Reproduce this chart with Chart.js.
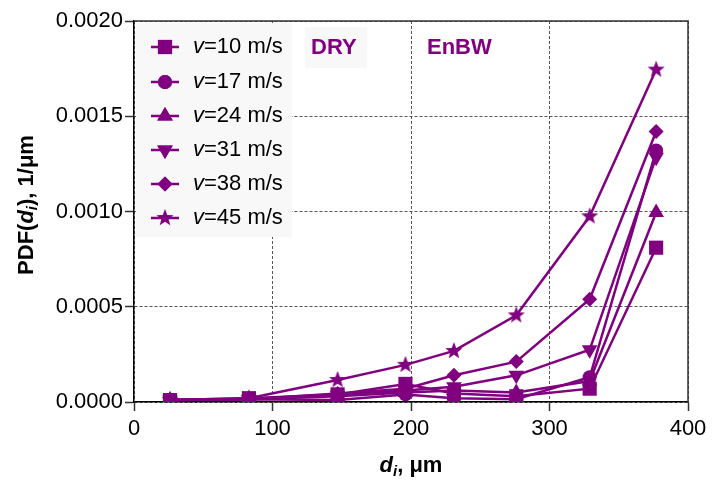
<!DOCTYPE html>
<html>
<head>
<meta charset="utf-8">
<script src="https://cdn.jsdelivr.net/npm/chart.js@4.4.1/dist/chart.umd.min.js"></script>
<style>
  html, body { margin: 0; padding: 0; background: #fff; }
  #chart { display: block; }
</style>
</head>
<body>
<canvas id="chart" width="713" height="481"></canvas>
<script>
// droplet diameter classes, um
const diameters = [26, 83, 147, 196, 231, 276, 329, 377];

// PDF(d_i) per wind speed, 1/um
const pdfV10 = [0.000010, 0.000020, 0.000040, 0.000095, 0.000045, 0.000030, 0.000070, 0.000810];
const pdfV17 = [0.000010, 0.000015, 0.000010, 0.000040, 0.000020, 0.000015, 0.000130, 0.001320];
const pdfV24 = [0.000010, 0.000015, 0.000030, 0.000050, 0.000060, 0.000050, 0.000110, 0.000995];
const pdfV31 = [0.000010, 0.000015, 0.000035, 0.000060, 0.000080, 0.000140, 0.000274, 0.001285];
const pdfV38 = [0.000010, 0.000015, 0.000045, 0.000070, 0.000140, 0.000212, 0.000540, 0.001420];
const pdfV45 = [0.000010, 0.000020, 0.000116, 0.000195, 0.000268, 0.000455, 0.000975, 0.001745];

const speedLabels = ['10', '17', '24', '31', '38', '45'];
const xTicks = [0, 100, 200, 300, 400];
const yTicks = [0, 0.0005, 0.0010, 0.0015, 0.0020];

const PURPLE = '#800080';
const FONT = '"Liberation Sans", Arial, sans-serif';

// filled five point star, chart.js only has the stroked one
function makeStar(r) {
    const c = document.createElement('canvas');
    c.width = c.height = Math.ceil(2 * r + 2);
    const g = c.getContext('2d');
    const cx = c.width / 2, cy = c.height / 2;
    g.beginPath();
    for (let i = 0; i < 10; i++) {
        const rad = i % 2 === 0 ? r : r * 0.42;
        const a = -Math.PI / 2 + i * Math.PI / 5;
        g.lineTo(cx + rad * Math.cos(a), cy + rad * Math.sin(a));
    }
    g.closePath();
    g.fillStyle = PURPLE;
    g.fill();
    return c;
}
const star = makeStar(9);

const markers = [
    { style: 'rect', radius: 10, rotation: 0 },
    { style: 'circle', radius: 7, rotation: 0 },
    { style: 'triangle', radius: 9, rotation: 0 },
    { style: 'triangle', radius: 9, rotation: 180 },
    { style: 'rectRot', radius: 7.5, rotation: 0 },
    { style: star, radius: 9, rotation: 0 }
];

const series = [pdfV10, pdfV17, pdfV24, pdfV31, pdfV38, pdfV45];

const datasets = series.map((vals, k) => ({
    label: 'v=' + speedLabels[k] + ' m/s',
    data: diameters.map((d, i) => ({ x: d, y: vals[i] })),
    borderColor: PURPLE,
    backgroundColor: PURPLE,
    borderWidth: 2.5,
    pointStyle: markers[k].style,
    pointRadius: markers[k].radius,
    pointRotation: markers[k].rotation,
    pointBorderWidth: 0,
    pointBackgroundColor: PURPLE,
    tension: 0
}));

// text made of differently styled pieces, drawn centered at (x, y)
function drawRich(ctx, parts, x, y) {
    let w = 0;
    parts.forEach(p => { ctx.font = p.font; p.w = ctx.measureText(p.t).width; w += p.w; });
    let cx = x - w / 2;
    ctx.textBaseline = 'middle';
    ctx.textAlign = 'left';
    parts.forEach(p => {
        ctx.font = p.font;
        ctx.fillStyle = p.color || '#000';
        ctx.fillText(p.t, cx, y + (p.dy || 0));
        cx += p.w;
    });
}

function drawMarker(ctx, m, x, y) {
    if (m.style instanceof HTMLCanvasElement) {
        ctx.drawImage(m.style, x - m.style.width / 2, y - m.style.height / 2);
        return;
    }
    Chart.helpers.drawPoint(ctx, { pointStyle: m.style, radius: m.radius, rotation: m.rotation, borderWidth: 0 }, x, y);
    ctx.fill();
}

const decorations = {
    id: 'decorations',
    afterDatasetsDraw(chart) {
        const ctx = chart.ctx;
        const area = chart.chartArea;
        ctx.save();

        // solid frame on top and right
        ctx.strokeStyle = '#333';
        ctx.lineWidth = 1.5;
        ctx.setLineDash([]);
        ctx.beginPath();
        ctx.moveTo(area.left, area.top);
        ctx.lineTo(area.right, area.top);
        ctx.lineTo(area.right, area.bottom);
        ctx.stroke();

        // legend box
        ctx.fillStyle = '#f8f8f8';
        ctx.fillRect(area.left + 2, area.top + 2, 156, 214);
        const rowY = [47, 82, 116, 150, 184, 218];
        speedLabels.forEach((s, k) => {
            const y = rowY[k];
            ctx.strokeStyle = PURPLE;
            ctx.lineWidth = 2.5;
            ctx.beginPath();
            ctx.moveTo(151, y);
            ctx.lineTo(179, y);
            ctx.stroke();
            ctx.fillStyle = PURPLE;
            drawMarker(ctx, markers[k], 165, y);
            ctx.textBaseline = 'middle';
            ctx.textAlign = 'left';
            ctx.fillStyle = '#000';
            ctx.font = 'italic 22px ' + FONT;
            ctx.fillText('v', 193, y);
            const vw = ctx.measureText('v').width;
            ctx.font = '22px ' + FONT;
            ctx.fillText('=' + s + ' m/s', 193 + vw, y);
        });

        // annotations
        ctx.fillStyle = '#f8f8f8';
        ctx.fillRect(305, 27, 62, 41);
        ctx.fillStyle = PURPLE;
        ctx.font = 'bold 22px ' + FONT;
        ctx.textBaseline = 'middle';
        ctx.textAlign = 'left';
        ctx.fillText('DRY', 311, 48);
        ctx.fillText('EnBW', 427, 48);

        // axis titles
        drawRich(ctx, [
            { t: 'd', font: 'bold italic 22px ' + FONT },
            { t: 'i', font: 'bold italic 15px ' + FONT, dy: 6 },
            { t: ', \u03bcm', font: 'bold 22px ' + FONT }
        ], 411, 466);

        ctx.translate(27, 205);
        ctx.rotate(-Math.PI / 2);
        drawRich(ctx, [
            { t: 'PDF(', font: 'bold 22px ' + FONT },
            { t: 'd', font: 'bold italic 22px ' + FONT },
            { t: 'i', font: 'bold italic 15px ' + FONT, dy: 6 },
            { t: '), 1/\u03bcm', font: 'bold 22px ' + FONT }
        ], 0, 0);
        ctx.restore();
    }
};

new Chart(document.getElementById('chart'), {
    type: 'line',
    data: { datasets },
    plugins: [decorations],
    options: {
        responsive: false,
        animation: false,
        devicePixelRatio: 1,
        layout: { padding: { top: 21, right: 25, left: 0, bottom: 0 } },
        plugins: {
            legend: { display: false },
            tooltip: { enabled: false }
        },
        scales: {
            x: {
                type: 'linear',
                min: 0,
                max: 400,
                afterFit: s => { s.height = 79; },
                afterBuildTicks: s => { s.ticks = xTicks.map(v => ({ value: v })); },
                ticks: {
                    color: '#000',
                    font: { family: FONT, size: 22 },
                    padding: 5,
                    maxRotation: 0
                },
                grid: {
                    color: '#555',
                    lineWidth: 1,
                    tickColor: '#333',
                    tickLength: 9,
                    tickWidth: 1.5
                },
                border: { display: true, color: '#000', width: 1.5, dash: [3, 2] }
            },
            y: {
                min: 0,
                max: 0.002,
                afterFit: s => { s.width = 134; },
                afterBuildTicks: s => { s.ticks = yTicks.map(v => ({ value: v })); },
                ticks: {
                    color: '#000',
                    font: { family: FONT, size: 22 },
                    padding: 2,
                    callback: v => v.toFixed(4)
                },
                grid: {
                    color: '#555',
                    lineWidth: 1,
                    tickColor: '#333',
                    tickLength: 9,
                    tickWidth: 1.5
                },
                border: { display: true, color: '#000', width: 1.5, dash: [3, 2] }
            }
        }
    }
});
</script>
</body>
</html>
